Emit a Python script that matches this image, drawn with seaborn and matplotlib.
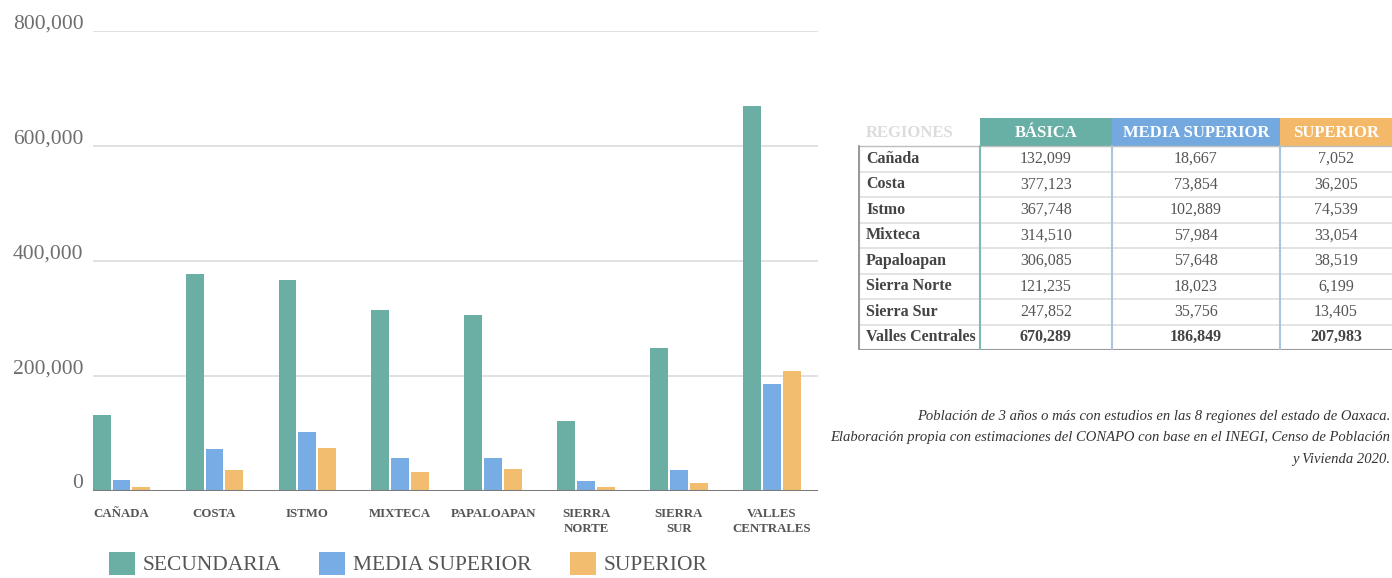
import numpy as np
import pandas as pd
import matplotlib
matplotlib.use("Agg")
import matplotlib.pyplot as plt
from matplotlib.patches import Patch, Rectangle
from matplotlib.transforms import ScaledTranslation
import seaborn as sns

# ---- data ---------------------------------------------------------------
regions = ["Cañada", "Costa", "Istmo", "Mixteca", "Papaloapan",
           "Sierra Norte", "Sierra Sur", "Valles Centrales"]
tick_labels = ["CAÑADA", "COSTA", "ISTMO", "MIXTECA", "PAPALOAPAN",
               "SIERRA\nNORTE", "SIERRA\nSUR", "VALLES\nCENTRALES"]
basica = [132099, 377123, 367748, 314510, 306085, 121235, 247852, 670289]
media_superior = [18667, 73854, 102889, 57984, 57648, 18023, 35756, 186849]
superior = [7052, 36205, 74539, 33054, 38519, 6199, 13405, 207983]
legend_names = ["SECUNDARIA", "MEDIA SUPERIOR", "SUPERIOR"]
table_headers = ["REGIONES", "BÁSICA", "MEDIA SUPERIOR", "SUPERIOR"]
y_ticks = [0, 200000, 400000, 600000, 800000]
caption = ("Población de 3 años o más con estudios en las 8 regiones del estado de Oaxaca.\n"
           "Elaboración propia con estimaciones del CONAPO con base en el INEGI, Censo de Población\n"
           "y Vivienda 2020.")

colors = ["#6aaea4", "#77ade4", "#f2bd6e"]
header_colors = ["#ffffff", "#68afa5", "#74a9df", "#f3b968"]

sns.set_theme(style="white")
plt.rcParams["font.family"] = ["Liberation Serif", "DejaVu Serif"]

df = pd.DataFrame({
    "region": regions * 3,
    "nivel": sum([[n] * len(regions) for n in legend_names], []),
    "valor": basica + media_superior + superior,
})

W, H = 1392, 578
fig = plt.figure(figsize=(W / 100, H / 100), dpi=100)
ax = fig.add_axes([93 / W, 1 - 491 / H, 725 / W, 460 / H])

sns.barplot(data=df, x="region", y="valor", hue="nivel", hue_order=legend_names,
            palette=colors, width=0.64, gap=0.1, ax=ax, legend=False,
            saturation=1, edgecolor="none")

ax.set_xlim(-0.307, 7.497)
ax.set_ylim(0, 800000)
ax.set_xlabel("")
ax.set_ylabel("")
for s in ax.spines.values():
    s.set_visible(False)
ax.set_yticks(y_ticks)
ax.set_yticklabels([f"{v:,}" for v in y_ticks])
ax.yaxis.grid(True, color="#dcdcdc", linewidth=1.2)
ax.set_axisbelow(True)
ax.axhline(0, color="#7a7a7a", linewidth=2.2, zorder=5)
ax.tick_params(axis="y", length=0, pad=7, labelsize=15.5, labelcolor="#6e6e6e")
ax.tick_params(axis="x", length=0, pad=12, labelsize=9.3, labelcolor="#555555")
ax.set_xticks(range(len(regions)))
ax.set_xticklabels(tick_labels, fontweight="bold", linespacing=1.35, va="top")
for lbl in ax.get_yticklabels():
    lbl.set_transform(lbl.get_transform() + ScaledTranslation(0, 7 / 72, fig.dpi_scale_trans))

# legend below the chart
handles = [Patch(facecolor=c, edgecolor="none") for c in colors]
fig.legend(handles, legend_names, loc="lower center", bbox_to_anchor=(408 / W, -0.018),
           ncol=3, frameon=False, fontsize=15.5, handlelength=1.2, handleheight=1.25,
           handletextpad=0.35, columnspacing=1.8, borderpad=0.1, labelcolor="#555555")

# ---- data table -----------------------------------------------------------
tx0, ty0, tx1, ty1 = 858, 118, 1392, 350
tax = fig.add_axes([tx0 / W, 1 - ty1 / H, (tx1 - tx0) / W, (ty1 - ty0) / H])
tw, th = tx1 - tx0, ty1 - ty0
tax.set_xlim(0, tw)
tax.set_ylim(th, 0)
tax.axis("off")
col_edges = [0, 122, 254, 422, tw]
head_h = 28
row_h = (th - head_h) / len(regions)

for i, (hc, txt) in enumerate(zip(header_colors, table_headers)):
    x0, x1 = col_edges[i], col_edges[i + 1]
    tax.add_patch(Rectangle((x0, 0), x1 - x0, head_h, facecolor=hc, edgecolor="none"))
    tcol = "white" if i else "#dcdcdc"
    tax.text((x0 + x1) / 2 if i else 8, head_h / 2 + 1, txt, ha="center" if i else "left",
             va="center", fontsize=12, fontweight="bold", color=tcol)

cols = [basica, media_superior, superior]
for r, name in enumerate(regions):
    yc = head_h + row_h * (r + 0.5)
    last = r == len(regions) - 1
    tax.text(8, yc, name, ha="left", va="center", fontsize=11.5, fontweight="bold",
             color="#444444")
    for c, vals in enumerate(cols):
        x0, x1 = col_edges[c + 1], col_edges[c + 2]
        tax.text((x0 + x1) / 2, yc, f"{vals[r]:,}", ha="center", va="center",
                 fontsize=11.5, color="#555555" if not last else "#444444",
                 fontweight="bold" if last else "normal")

for r in range(1, len(regions)):
    y = head_h + row_h * r
    tax.plot([0, tw], [y, y], color="#dedede", linewidth=1.2)
tax.plot([0, tw], [th - 0.5, th - 0.5], color="#9a9a9a", linewidth=1.5)
tax.plot([0, tw], [head_h, head_h], color="#bdbdbd", linewidth=1.0)
tax.plot([0.8, 0.8], [head_h, th], color="#9a9a9a", linewidth=1.5)
vcols = ["#7fbab2", "#a9c4de", "#a9c4de"]
for xe, vc in zip(col_edges[1:4], vcols):
    tax.plot([xe, xe], [head_h, th], color=vc, linewidth=1.5)

fig.text(1390 / W, 1 - 410 / H, caption, ha="right", va="top", fontsize=10.5,
         style="italic", color="#333333", linespacing=1.85)

fig.savefig("out.png", dpi=100, facecolor="white")
